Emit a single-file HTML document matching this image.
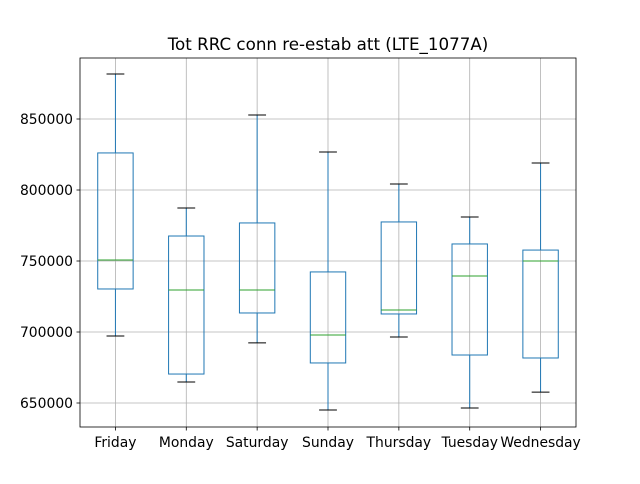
<!DOCTYPE html>
<html><head><meta charset="utf-8"><style>
body{margin:0;background:#fff;font-family:"DejaVu Sans","Liberation Sans",sans-serif}
</style></head><body>
<svg id="chart" width="640" height="480" xmlns="http://www.w3.org/2000/svg" style="font-family:'DejaVu Sans','Liberation Sans',sans-serif">
</svg>
<script>
const categories=["Friday","Monday","Saturday","Sunday","Thursday","Tuesday","Wednesday"];
const whiskerHigh=[881700,787300,852800,826800,804200,781000,819000];
const q3=[826100,767600,776800,742300,777500,762000,757700];
const medians=[750700,729600,729600,697900,715500,739400,750000];
const q1=[730300,670400,713400,678200,712700,683800,681700];
const whiskerLow=[697200,664800,692300,645100,696500,646500,657700];
const yTicks=[650000,700000,750000,800000,850000];
const L=80,R=576,T=58,B=427,yMin=633100,yMax=892960;
const sx=i=>L+(i+1-0.5)*(R-L)/categories.length;
const sy=v=>B-(v-yMin)/(yMax-yMin)*(B-T);
const svg=document.getElementById('chart');const NS="http://www.w3.org/2000/svg";
function el(t,a,p){const e=document.createElementNS(NS,t);for(const k in a)e.setAttribute(k,a[k]);(p||svg).appendChild(e);return e;}
let bg=el('rect',{x:L,y:T,width:R-L,height:B-T,fill:'#fff'});


yTicks.forEach(v=>{const y=sy(v);
 let g=el('line',{x1:L,x2:R,y1:y,y2:y,stroke:'#b0b0b0','stroke-width':0.8});
 
 
 el('line',{x1:L-3.5,x2:L,y1:y,y2:y,stroke:'#000','stroke-width':0.8});
 let t=el('text',{x:L-7,y:y+5,'text-anchor':'end','font-size':'13.9px',fill:'#000'});t.textContent=v;
 
 
});
categories.forEach((c,i)=>{const x=sx(i);
 let g=el('line',{x1:x,x2:x,y1:T,y2:B,stroke:'#b0b0b0','stroke-width':0.8});
 
 
 el('line',{x1:x,x2:x,y1:B,y2:B+3.5,stroke:'#000','stroke-width':0.8});
 let t=el('text',{x:x,y:B+20,'text-anchor':'middle','font-size':'13.9px',fill:'#000'});t.textContent=c;
 
 
 const hw=17.7,cw=8.9;
 const grp=el('g',{});
 
 
 el('line',{x1:x,x2:x,y1:sy(whiskerHigh[i]),y2:sy(q3[i]),stroke:'#1f77b4','stroke-width':1},grp);
 el('line',{x1:x,x2:x,y1:sy(q1[i]),y2:sy(whiskerLow[i]),stroke:'#1f77b4','stroke-width':1},grp);
 el('line',{x1:x-cw,x2:x+cw,y1:sy(whiskerHigh[i]),y2:sy(whiskerHigh[i]),stroke:'#000','stroke-width':1},grp);
 el('line',{x1:x-cw,x2:x+cw,y1:sy(whiskerLow[i]),y2:sy(whiskerLow[i]),stroke:'#000','stroke-width':1},grp);
 el('rect',{x:x-hw,y:sy(q3[i]),width:2*hw,height:sy(q1[i])-sy(q3[i]),fill:'none',stroke:'#1f77b4','stroke-width':1},grp);
 el('line',{x1:x-hw,x2:x+hw,y1:sy(medians[i]),y2:sy(medians[i]),stroke:'#2ca02c','stroke-width':1},grp);
});
let fr=el('rect',{x:L,y:T,width:R-L,height:B-T,fill:'none',stroke:'#000','stroke-width':0.8});


let ti=el('text',{x:(L+R)/2,y:50,'text-anchor':'middle','font-size':'16.7px',fill:'#000'});
ti.textContent='Tot RRC conn re-estab att (LTE_1077A)';


</script>
</body></html>
